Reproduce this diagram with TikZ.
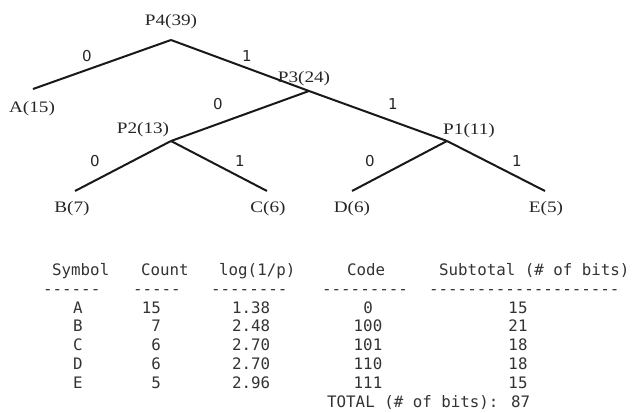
\documentclass[tikz,border=0pt]{standalone}
\usepackage{fontspec}
\newfontfamily\treefont[FakeStretch=1.2]{Liberation Serif}
\newfontfamily\bitfont{DejaVu Sans}
\newfontfamily\tabfont[Ligatures=TeXOff]{DejaVu Sans Mono}
\begin{document}
\begin{tikzpicture}[x=1pt,y=-1pt,
  edge/.style={line width=2pt,draw=black!90},
  leaf/.style={font=\treefont\fontsize{16}{18}\selectfont,inner sep=0pt,anchor=base,text=black!85},
  bit/.style={font=\bitfont\fontsize{15}{17}\selectfont,inner sep=0pt,anchor=base,text=black!85},
  tab/.style={font=\tabfont\fontsize{15.8}{18}\selectfont,inner sep=0pt,text=black!80},
  tabL/.style={tab,anchor=base west},
  tabC/.style={tab,anchor=base},
  tabR/.style={tab,anchor=base east}]
\useasboundingbox[fill=white] (0,0) rectangle (636,412);

% tree junctions and leaf ends
\coordinate (p4) at (171,40);
\coordinate (p3) at (309,91);
\coordinate (p2) at (171,141);
\coordinate (p1) at (447,141);
\coordinate (a) at (33,89);
\coordinate (b) at (75,191);
\coordinate (c) at (267,191);
\coordinate (d) at (352,191);
\coordinate (e) at (545,191);

% branches
\draw[edge] (p4) -- (a);
\draw[edge] (p4) -- (p3);
\draw[edge] (p3) -- (p2);
\draw[edge] (p3) -- (p1);
\draw[edge] (p2) -- (b);
\draw[edge] (p2) -- (c);
\draw[edge] (p1) -- (d);
\draw[edge] (p1) -- (e);

% node labels
\node[leaf] (lp4) at (171,26) {P4(39)};
\node[leaf] (lp3) at (304,82) {P3(24)};
\node[leaf] (lp2) at (143,133) {P2(13)};
\node[leaf] (lp1) at (469,134) {P1(11)};
\node[leaf] (la) at (32,112) {A(15)};
\node[leaf] (lb) at (72,212) {B(7)};
\node[leaf] (lc) at (268,212) {C(6)};
\node[leaf] (ld) at (352,212) {D(6)};
\node[leaf] (le) at (546,212) {E(5)};

% branch bits
\node[bit] (b40) at (87,61) {0};
\node[bit] (b41) at (247,61) {1};
\node[bit] (b30) at (218,109) {0};
\node[bit] (b31) at (393,109) {1};
\node[bit] (b20) at (95,166) {0};
\node[bit] (b21) at (240,166) {1};
\node[bit] (b10) at (370,166) {0};
\node[bit] (b11) at (517,166) {1};

% table header
\node[tabL] (hsym) at (52,275) {Symbol};
\node[tabL] (hcnt) at (141,275) {Count};
\node[tabL] (hlog) at (219,275) {log(1/p)};
\node[tabL] (hcode) at (347,275) {Code};
\node[tabL] (hsub) at (439,275) {Subtotal (\# of bits)};

\node[tabL] (dsym) at (43,294) {------};
\node[tabL] (dcnt) at (133,294) {-----};
\node[tabL] (dlog) at (211,294) {--------};
\node[tabL] (dcode) at (322,294) {---------};
\node[tabL] (dsub) at (429,294) {--------------------};

% table rows
\foreach \s/\n/\l/\c/\t [count=\i] in {A/15/1.38/0/15,B/7/2.48/100/21,C/6/2.70/101/18,D/6/2.70/110/18,E/5/2.96/111/15}{
  \pgfmathsetmacro{\yy}{313+18.75*(\i-1)}
  \node[tabC] (sym\i) at (78,\yy) {\s};
  \node[tabR] (cnt\i) at (161,\yy) {\n};
  \node[tabL] (log\i) at (232,\yy) {\l};
  \node[tabC] (code\i) at (368,\yy) {\c};
  \node[tabC] (sub\i) at (518,\yy) {\t};
}
\node[tabL] (total) at (327,407) {TOTAL (\# of bits): 87};
\end{tikzpicture}
\end{document}
